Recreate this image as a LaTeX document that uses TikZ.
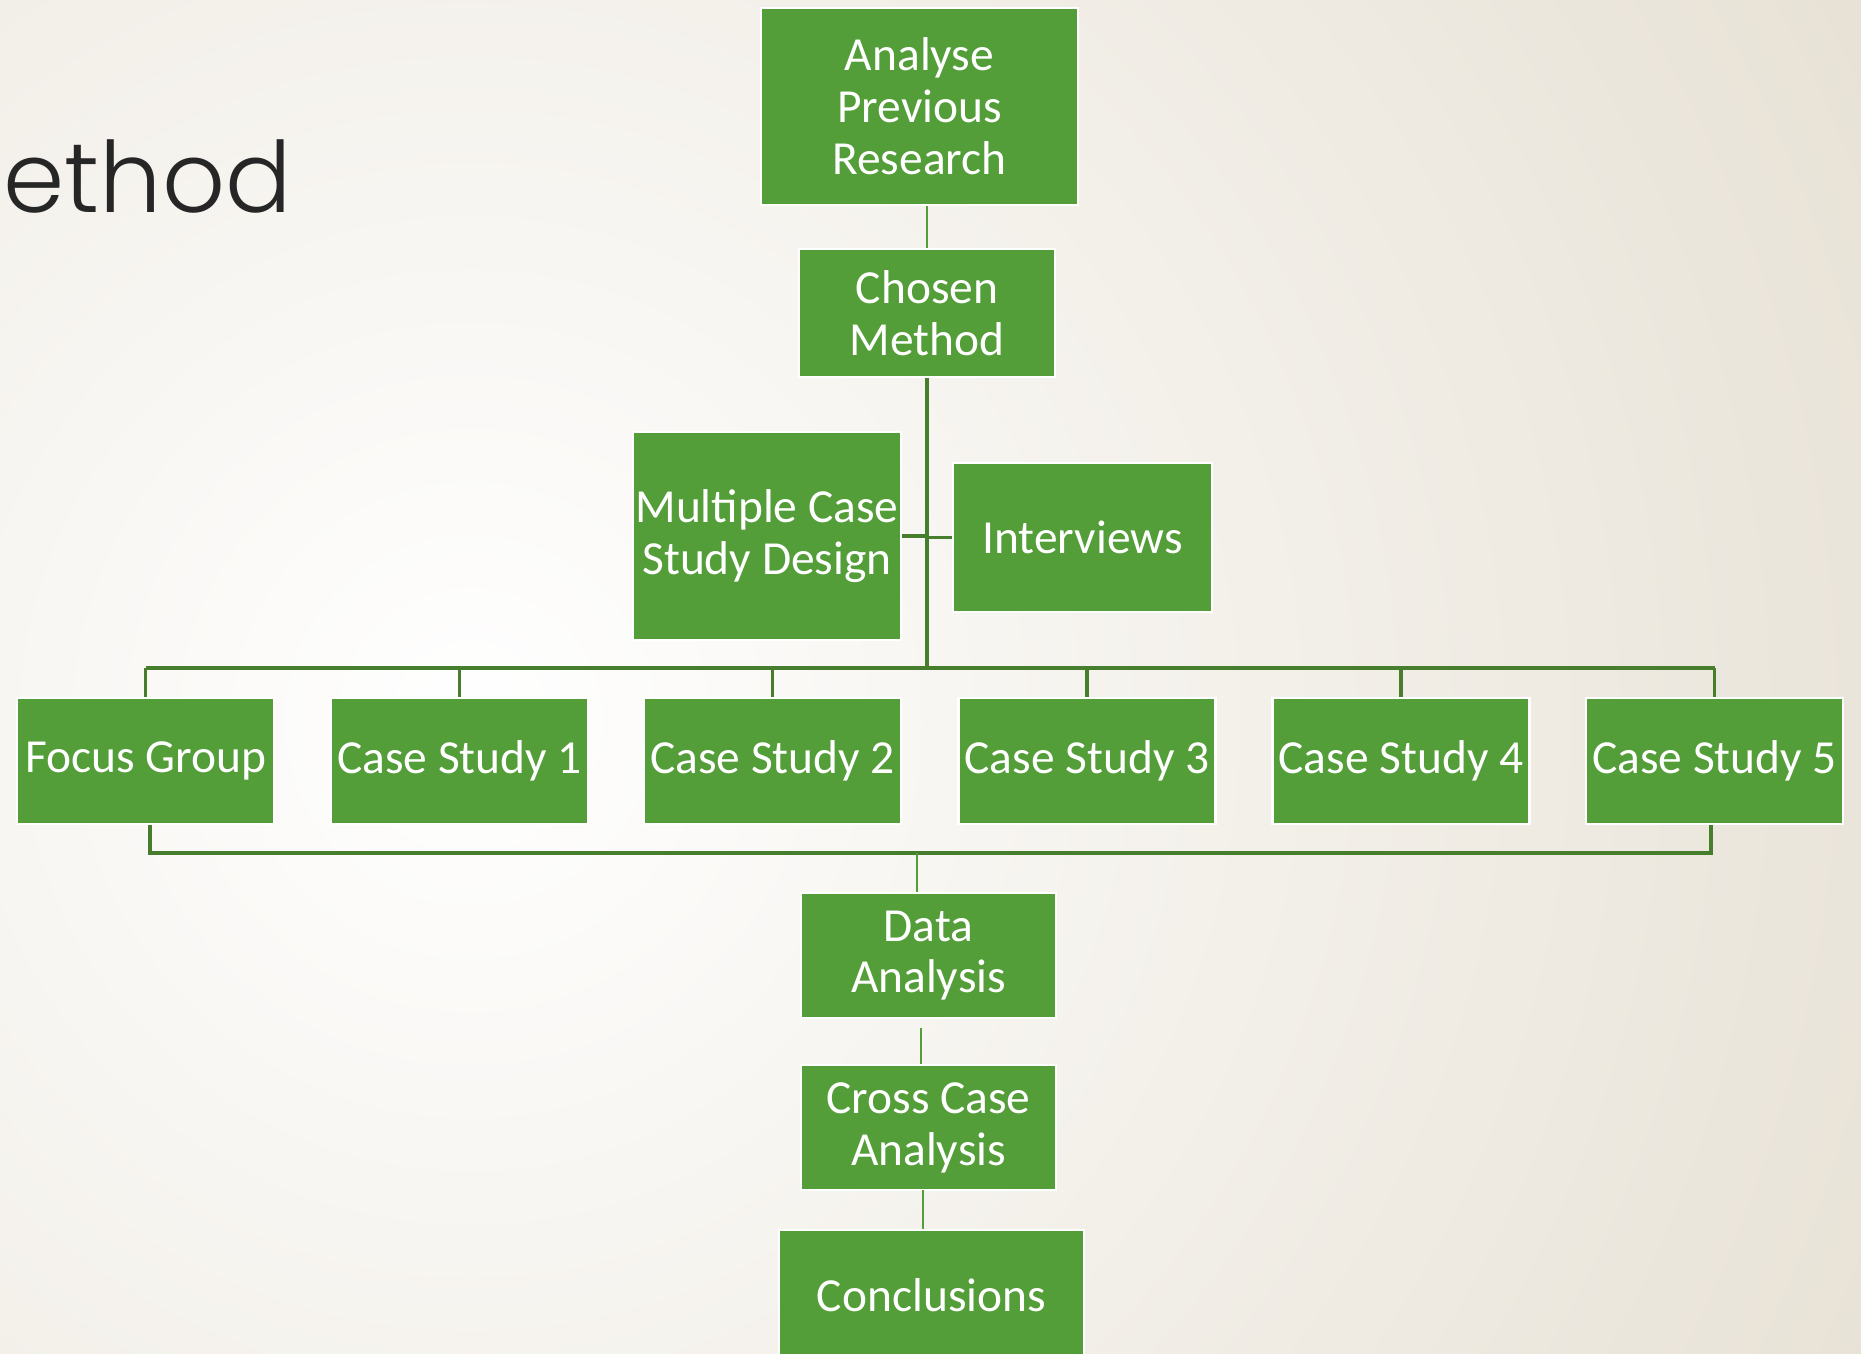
\documentclass[tikz,border=0pt]{standalone}
\usepackage{fontspec}
\setmainfont{Carlito}
\newfontfamily\titlefont{Poppins Light}
\usepackage{xcolor}
\usetikzlibrary{positioning}

\definecolor{boxgreen}{RGB}{84,158,57}
\definecolor{linegreen}{RGB}{70,126,46}
\definecolor{slidebeige}{RGB}{216,206,186}
\definecolor{titlegray}{RGB}{38,38,38}

\begin{document}
\begin{tikzpicture}[x=0.02cm, y=-0.02cm,
    box/.style={rectangle, fill=boxgreen, draw=white, line width=1.5pt, text=white,
        align=center, inner sep=0pt, font=\fontsize{27}{29.5}\selectfont},
    link/.style={draw=linegreen, line width=1.8pt},
    thinlink/.style={draw=boxgreen, line width=1.5pt}]

    % Slide background
    \useasboundingbox (0,0) rectangle (1861,1353);
    \clip (0,0) rectangle (1861,1353);
    \shade[inner color=white, outer color=slidebeige] (470,720) circle (2600);

    % Slide title (cut at the left edge)
    \node[anchor=base east, inner sep=0pt, text=titlegray, font=\titlefont\fontsize{56}{60}\selectfont] (title) at (292,212) {Method};

    % Top of the chart
    \node[box, minimum width=6.34cm, minimum height=3.94cm] (analyse) at (919.5,106.5) {Analyse\\Previous\\Research};
    \node[box, minimum width=5.12cm, minimum height=2.56cm] (chosen) at (927,313) {Chosen\\Method};

    % Design and interviews beside the trunk
    \node[box, minimum width=5.36cm, minimum height=4.16cm] (multiple) at (767,536) {Multiple Case\\Study Design};
    \node[box, minimum width=5.18cm, minimum height=2.98cm] (interviews) at (1082.5,537.5) {Interviews};

    % Row of data sources
    \node[box, minimum width=5.14cm, minimum height=2.52cm] (fg) at (145.5,761) {Focus Group};
    \node[box, minimum width=5.14cm, minimum height=2.52cm] (cs1) at (459.5,761) {Case Study 1};
    \node[box, minimum width=5.14cm, minimum height=2.52cm] (cs2) at (772.5,761) {Case Study 2};
    \node[box, minimum width=5.14cm, minimum height=2.52cm] (cs3) at (1087,761) {Case Study 3};
    \node[box, minimum width=5.14cm, minimum height=2.52cm] (cs4) at (1401,761) {Case Study 4};
    \node[box, minimum width=5.14cm, minimum height=2.52cm] (cs5) at (1714.5,761) {Case Study 5};

    % Analysis steps
    \node[box, minimum width=5.1cm, minimum height=2.5cm] (data) at (928.5,955.5) {Data\\Analysis};
    \node[box, minimum width=5.1cm, minimum height=2.5cm] (cross) at (928.5,1127.5) {Cross Case\\Analysis};
    \node[box, minimum width=6.1cm, minimum height=2.6cm] (concl) at (931.5,1295) {Conclusions};

    % Trunk and upper bus
    \coordinate (hub) at (927,668);
    \draw[thinlink] (chosen.north) -- (chosen.north |- analyse.south);
    \draw[link] (chosen.south) -- (hub);
    \draw[link] (multiple.east) -- (multiple.east -| hub);
    \draw[link] (interviews.west) -- (interviews.west -| hub);
    \draw[link] (fg.north |- hub) -- (cs5.north |- hub);
    \foreach \n in {fg,cs1,cs2,cs3,cs4,cs5}
        \draw[link] (\n.north |- hub) -- (\n.north);

    % Lower bus into the analysis
    \coordinate (sink) at (917,853);
    \coordinate (gap) at (921,1028);
    \coordinate (last) at (923,1190);
    \draw[link] ([xshift=0.09cm]fg.south) |- ([xshift=-0.07cm]cs5.south |- sink) -- ([xshift=-0.07cm]cs5.south);
    \draw[thinlink] (sink) -- (sink |- data.north);
    \draw[thinlink] (gap) -- (gap |- cross.north);
    \draw[thinlink] (last) -- (last |- concl.north);

\end{tikzpicture}
\end{document}
